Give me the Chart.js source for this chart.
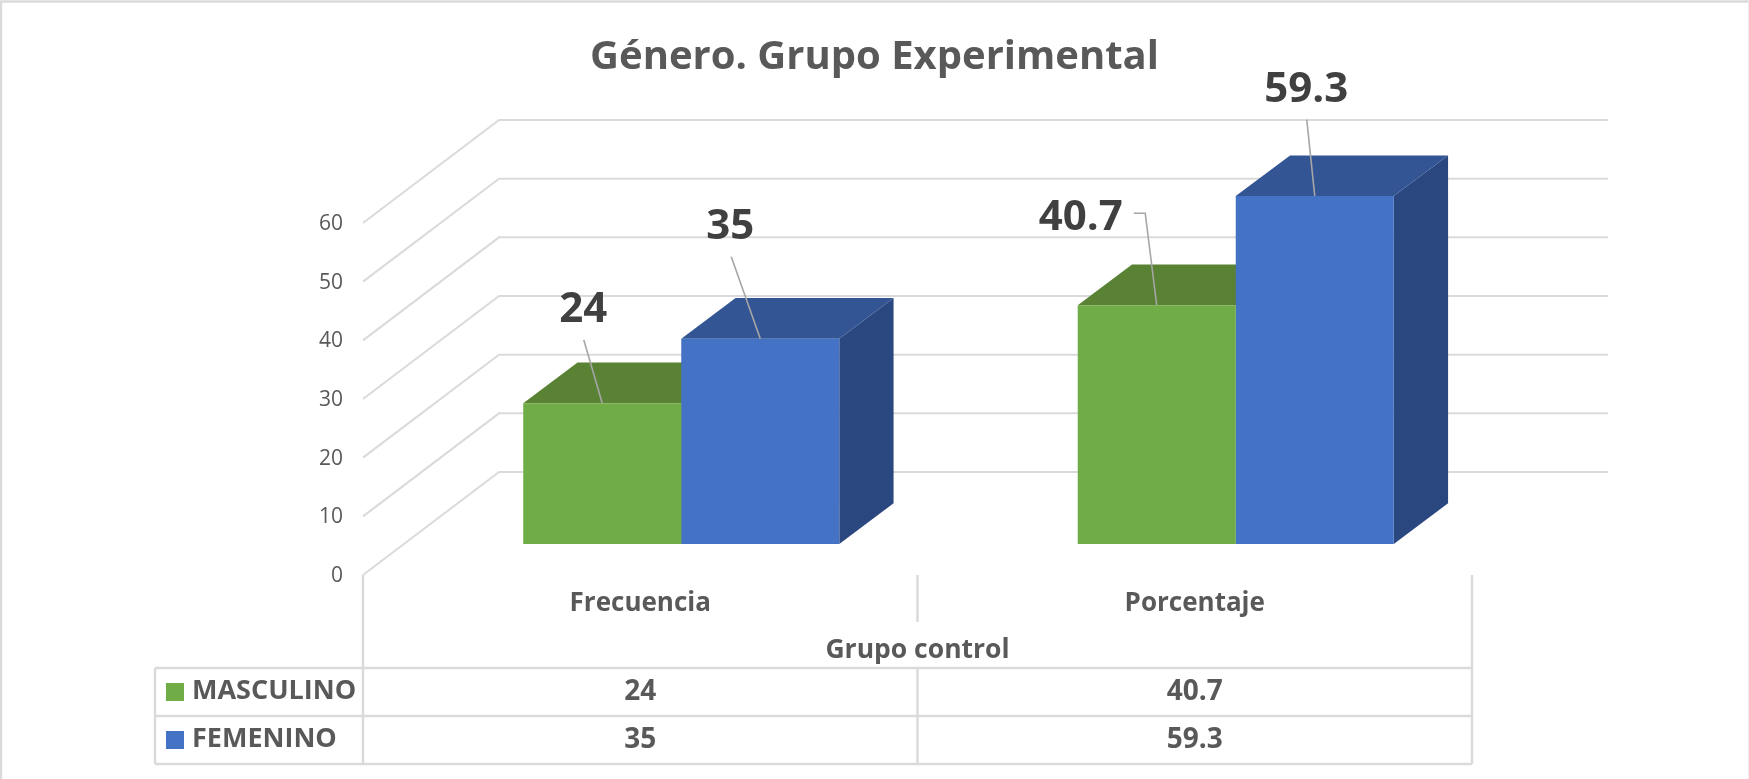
<!DOCTYPE html>
<html><head><meta charset="utf-8">
<style>html,body{margin:0;padding:0;background:#fff}canvas{display:block}</style>
<script src="https://cdn.jsdelivr.net/npm/chart.js@4"></script>
</head><body>
<canvas id="c" width="1749" height="779"></canvas>
<script>
const chartTitle = 'Género. Grupo Experimental';
const categories = ['Frecuencia', 'Porcentaje'];
const groupLabel = 'Grupo control';
const seriesNames = ['MASCULINO', 'FEMENINO'];
const masculino = [24, 40.7];
const femenino = [35, 59.3];
const valueTexts = [['24', '40.7'], ['35', '59.3']];

const FONT = '"Open Sans", sans-serif';
const INK = '#595959', LABEL = '#404040', GRID = '#DADADA', LEAD = '#A6A6A6';
const FRONT = ['#70AD47', '#4472C4'], TOP = ['#598235', '#335593'], SIDE = ['#4E7330', '#2A4780'];
const WALL_FRONT = {dx: -41, dy: 31}, WALL_BACK = {dx: 95, dy: -72}, BAR_DEPTH = {dx: 54.3, dy: -40.7};
// label anchor relative to the top-centre of the bar's front face, and leader start
const LABEL_POS = [
  [{dx: -19, dy: -93, lx: -18.5, ly: -63.5}, {dx: -76, dy: -87, lx: -23, ly: -92, elbow: -11.5}],
  [{dx: -30, dy: -112, lx: -29, ly: -82}, {dx: -8.5, dy: -106, lx: -8, ly: -76.5}]
];
const TABLE = {left: 155, rowY: [668, 716, 764]};

function poly(ctx, pts, fill) {
  ctx.beginPath(); pts.forEach((p, i) => i ? ctx.lineTo(p[0], p[1]) : ctx.moveTo(p[0], p[1]));
  ctx.closePath(); ctx.fillStyle = fill; ctx.fill();
}
function line(ctx, pts, color, w) {
  ctx.beginPath(); pts.forEach((p, i) => i ? ctx.lineTo(p[0], p[1]) : ctx.moveTo(p[0], p[1]));
  ctx.strokeStyle = color; ctx.lineWidth = w; ctx.stroke();
}
function text(ctx, s, x, y, font, color, align) {
  ctx.font = font; ctx.fillStyle = color; ctx.textAlign = align || 'center'; ctx.textBaseline = 'middle';
  ctx.fillText(s, x, y);
}

const scene = {
  id: 'scene',
  beforeDatasetsDraw(chart) {
    const {ctx, chartArea: a, scales: {x, y}, width} = chart;
    ctx.save();
    line(ctx, [[1, 779], [1, 1.5], [width - 1, 1.5]], GRID, 2.4);
    line(ctx, [[width - 0.5, 0], [width - 0.5, 779]], '#EDEDED', 1);
    y.ticks.forEach(t => {
      const py = y.getPixelForValue(t.value);
      line(ctx, [[a.left + WALL_FRONT.dx, py + WALL_FRONT.dy],
                 [a.left + WALL_BACK.dx, py + WALL_BACK.dy],
                 [a.right + WALL_BACK.dx, py + WALL_BACK.dy]], GRID, 2);
    });
    [0, 1].forEach(d => chart.getDatasetMeta(d).data.forEach(b => {
      const l = b.x - b.width / 2, r = b.x + b.width / 2, t = b.y, base = b.base;
      const dx = BAR_DEPTH.dx, dy = BAR_DEPTH.dy;
      poly(ctx, [[r, t], [r + dx, t + dy], [r + dx, base + dy], [r, base]], SIDE[d]);
      poly(ctx, [[l, t], [l + dx, t + dy], [r + dx, t + dy], [r, t]], TOP[d]);
    }));
    ctx.restore();
  },
  afterDatasetsDraw(chart) {
    const {ctx, scales: {x, y}} = chart;
    ctx.save();
    [0, 1].forEach(d => chart.getDatasetMeta(d).data.forEach((b, i) => {
      const p = LABEL_POS[d][i];
      const pts = [[b.x + p.lx, b.y + p.ly]];
      if (p.elbow !== undefined) pts.push([b.x + p.elbow, b.y + p.ly]);
      pts.push([b.x, b.y]);
      line(ctx, pts, LEAD, 1.6);
      text(ctx, valueTexts[d][i], b.x + p.dx, b.y + p.dy, 'bold 42px ' + FONT, LABEL);
    }));
    // data table
    const base = y.getPixelForValue(0) + WALL_FRONT.dy;
    const colX = [x.getPixelForTick(0), x.getPixelForTick(1)].map(v => v + WALL_FRONT.dx);
    const half = (colX[1] - colX[0]) / 2;
    const xL = colX[0] - half, xM = colX[0] + half, xR = colX[1] + half;
    const [r0, r1, r2] = TABLE.rowY;
    [[[xL, base], [xL, r2]], [[xR, base], [xR, r2]], [[xM, base], [xM, 622]], [[xM, r0], [xM, r2]],
     [[TABLE.left, r0], [TABLE.left, r2]], [[TABLE.left, r0], [xR, r0]],
     [[TABLE.left, r1], [xR, r1]], [[TABLE.left, r2], [xR, r2]]].forEach(s => line(ctx, s, GRID, 2.4));
    text(ctx, groupLabel, xM, 650, 'bold 26.5px ' + FONT, INK);
    seriesNames.forEach((n, d) => {
      const cy = (TABLE.rowY[d] + TABLE.rowY[d + 1]) / 2;
      ctx.fillStyle = FRONT[d]; ctx.fillRect(166, cy - 9, 18, 18);
      text(ctx, n, 192, cy - 1, 'bold 27px ' + FONT, INK, 'left');
      colX.forEach((cx, i) => text(ctx, valueTexts[d][i], cx, cy, 'bold 28px ' + FONT, INK));
    });
    ctx.restore();
  }
};

new Chart(document.getElementById('c'), {
  type: 'bar',
  data: {
    labels: categories,
    datasets: [
      {label: seriesNames[0], data: masculino, backgroundColor: FRONT[0]},
      {label: seriesNames[1], data: femenino, backgroundColor: FRONT[1]}
    ]
  },
  plugins: [scene],
  options: {
    responsive: false,
    animation: false,
    layout: {padding: 0},
    categoryPercentage: 0.57,
    barPercentage: 1,
    plugins: {
      legend: {display: false},
      tooltip: {enabled: false},
      title: {display: true, text: chartTitle, color: INK,
              font: {family: FONT, size: 40, weight: 'bold', lineHeight: 1.2},
              padding: {top: 34, bottom: 110}}
    },
    scales: {
      x: {
        grid: {display: false}, border: {display: false},
        ticks: {color: INK, font: {family: FONT, size: 26, weight: 'bold'}, labelOffset: WALL_FRONT.dx, padding: 36, maxRotation: 0},
        afterFit(s) { s.height = 235; }
      },
      y: {
        min: 0, max: 60,
        grid: {display: false}, border: {display: false},
        ticks: {stepSize: 10, color: INK, font: {family: FONT, size: 21}, labelOffset: WALL_FRONT.dy + 1, padding: 53},
        afterFit(s) { s.width = 404; }
      },
      spare: {
        position: 'right', display: true,
        grid: {display: false}, border: {display: false}, ticks: {display: false},
        afterFit(s) { s.width = 236; }
      }
    }
  }
});
</script>
</body></html>
